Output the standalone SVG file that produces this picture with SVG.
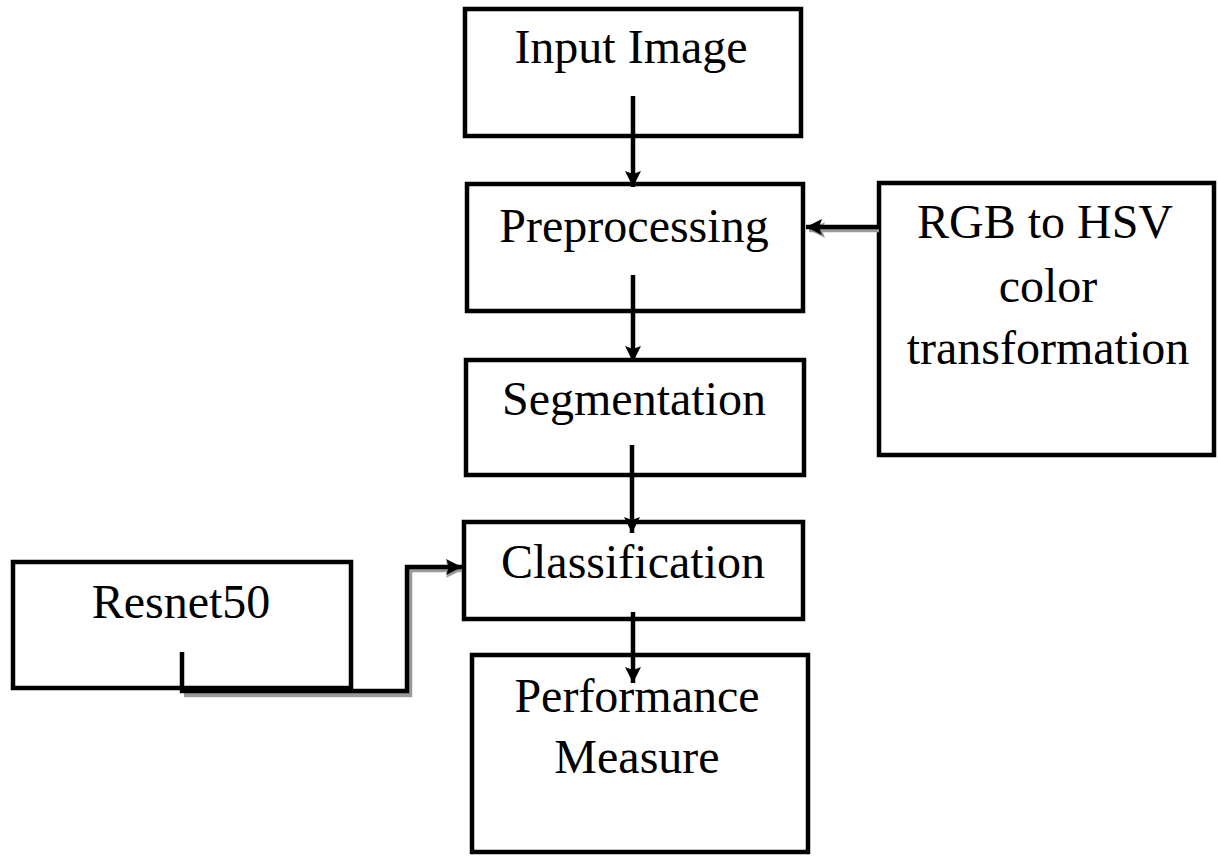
<svg xmlns="http://www.w3.org/2000/svg" width="1218" height="856" viewBox="0 0 1218 856">
<style>
.box{fill:#fff;stroke:#000;stroke-width:4.5}
.t{font-family:"Liberation Serif","Times New Roman",serif;font-size:48px;fill:#000;text-anchor:middle}
.c{fill:none;stroke:#000;stroke-width:4.5}
.s{fill:none;stroke:#9a9a9a;stroke-width:4.5}
</style>
<defs>
<marker id="ah" markerUnits="userSpaceOnUse" markerWidth="16" markerHeight="16" viewBox="0 0 16 16" refX="16" refY="8" orient="auto">
<path d="M0,0 L16,8 L0,16 L3,8 Z" fill="#000"/>
</marker>
<marker id="ahs" markerUnits="userSpaceOnUse" markerWidth="16" markerHeight="16" viewBox="0 0 16 16" refX="16" refY="8" orient="auto">
<path d="M0,0 L16,8 L0,16 L3,8 Z" fill="#9a9a9a"/>
</marker>
</defs>
<rect width="1218" height="856" fill="#fff"/>
<g id="input-image"><rect class="box" x="465" y="9" width="336" height="127"/><text class="t" x="631" y="63">Input Image</text></g>
<g id="preprocessing"><rect class="box" x="467" y="184" width="336" height="127"/><text class="t" x="634" y="242">Preprocessing</text></g>
<g id="rgb-hsv"><rect class="box" x="879" y="183" width="335" height="272"/><text class="t" x="1045" y="238">RGB to HSV</text><text class="t" x="1048" y="302">color</text><text class="t" x="1048" y="364">transformation</text></g>
<g id="segmentation"><rect class="box" x="466" y="360" width="338" height="115"/><text class="t" x="634" y="415">Segmentation</text></g>
<g id="classification"><rect class="box" x="464" y="522" width="339" height="97"/><text class="t" x="633" y="578">Classification</text></g>
<g id="resnet50"><rect class="box" x="13" y="562" width="338" height="126"/><text class="t" x="181" y="618">Resnet50</text></g>
<g id="performance"><rect class="box" x="472" y="655" width="336" height="197"/><text class="t" x="637" y="712">Performance</text><text class="t" x="637" y="773">Measure</text></g>
<g id="connectors">
<line class="c" x1="633" y1="96" x2="633" y2="187" marker-end="url(#ah)"/>
<line class="c" x1="633" y1="275" x2="633" y2="362" marker-end="url(#ah)"/>
<line class="c" x1="632" y1="445" x2="632" y2="533" marker-end="url(#ah)"/>
<line class="c" x1="633" y1="612" x2="633" y2="683" marker-end="url(#ah)"/>
<line class="s" x1="879" y1="230" x2="809" y2="230" marker-end="url(#ahs)"/>
<line class="c" x1="879" y1="227" x2="806" y2="227" marker-end="url(#ah)"/>
<path class="s" d="M184,695 H410 V570 H462" marker-end="url(#ahs)"/>
<path class="c" d="M182,652 V691 H407 V567 H462" marker-end="url(#ah)"/>
</g>
</svg>
